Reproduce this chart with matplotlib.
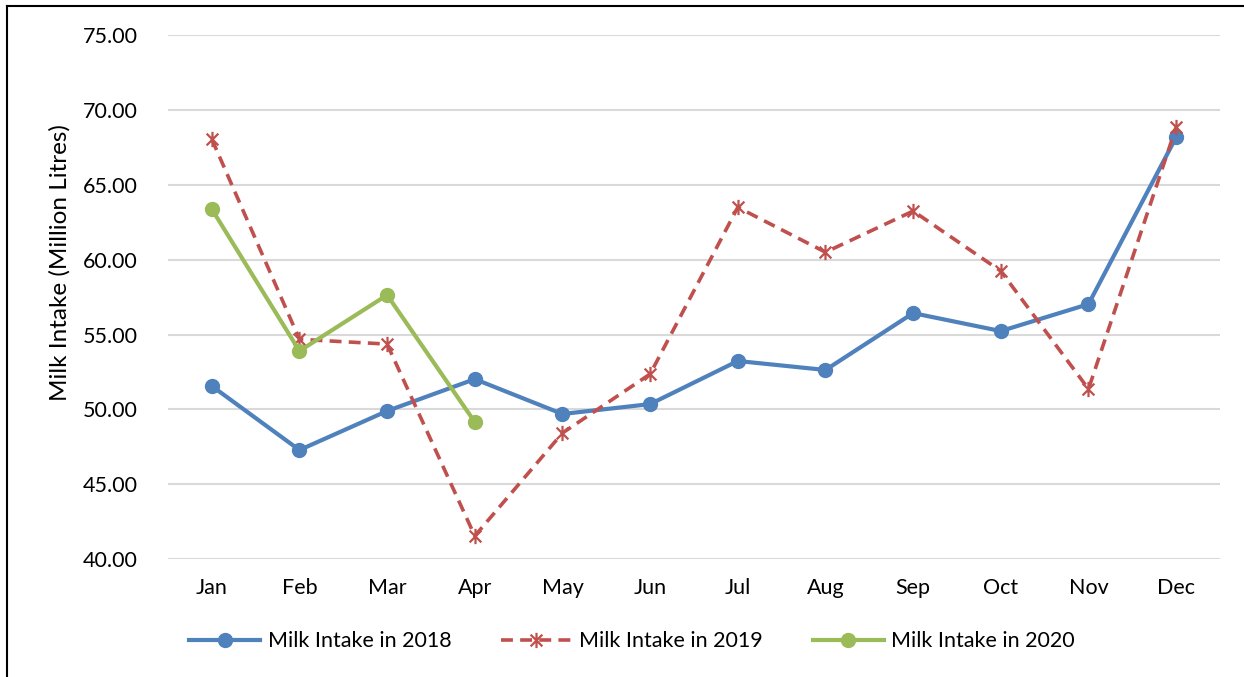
import matplotlib.pyplot as plt
from matplotlib.lines import Line2D
from matplotlib.path import Path

months = ['Jan', 'Feb', 'Mar', 'Apr', 'May', 'Jun', 'Jul', 'Aug', 'Sep', 'Oct', 'Nov', 'Dec']
intake_2018 = [51.56, 47.28, 49.89, 52.02, 49.69, 50.35, 53.23, 52.63, 56.43, 55.23, 57.03, 68.19]
intake_2019 = [68.06, 54.68, 54.36, 41.54, 48.42, 52.36, 63.50, 60.50, 63.25, 59.24, 51.36, 68.86]
intake_2020 = [63.38, 53.90, 57.64, 49.15]
yticks = [40, 45, 50, 55, 60, 65, 70, 75]

plt.rcParams['font.family'] = ['Lato', 'DejaVu Sans']

# excel-style asterisk marker: an x with a vertical stroke through it
star = Path([(-1, -1), (1, 1), (-1, 1), (1, -1), (0, -1.3), (0, 1.3)],
            [Path.MOVETO, Path.LINETO, Path.MOVETO, Path.LINETO, Path.MOVETO, Path.LINETO])

fig = plt.figure(figsize=(12.44, 6.77), dpi=100)
ax = fig.add_axes([0.135, 0.1743, 0.8457, 0.7737])

x = list(range(len(months)))
ax.plot(x, intake_2018, color='#4f81bd', lw=3, marker='o', ms=10, label='Milk Intake in 2018')
ax.plot(x, intake_2019, color='#c0504d', lw=2.6, ls=(0, (3.3, 2)), marker=star, ms=11,
        mew=1.6, label='Milk Intake in 2019')
ax.plot(x[:len(intake_2020)], intake_2020, color='#9bbb59', lw=3, marker='o', ms=10,
        label='Milk Intake in 2020')

ax.set_xlim(-0.5, 11.5)
ax.set_ylim(40, 75)
ax.set_xticks(x)
ax.set_xticklabels(months)
ax.set_yticks(yticks)
ax.set_yticklabels(['%.2f' % v for v in yticks])
ax.tick_params(length=0, labelsize=15.5, pad=22)
ax.tick_params(axis='x', pad=14)
ax.grid(axis='y', color='#d9d9d9', lw=1.5)
ax.set_axisbelow(True)
for s in ax.spines.values():
    s.set_visible(False)
ax.set_ylabel('Milk Intake (Million Litres)', fontsize=17.5)
ax.yaxis.set_label_coords(-0.093, 0.565)

ax.legend(loc='center', bbox_to_anchor=(0.508, 0.053), bbox_transform=fig.transFigure,
          ncol=3, frameon=False, fontsize=15.5, handlelength=3.3, columnspacing=2.3,
          handletextpad=0.35)

# the chart's frame, only left and top edges are in view
fig.add_artist(Line2D([7 / 1244, 7 / 1244], [0, 1 - 6 / 677], color='black', lw=1.5))
fig.add_artist(Line2D([7 / 1244, 1], [1 - 6 / 677, 1 - 6 / 677], color='black', lw=1.5))

fig.savefig('out.png', dpi=100)
